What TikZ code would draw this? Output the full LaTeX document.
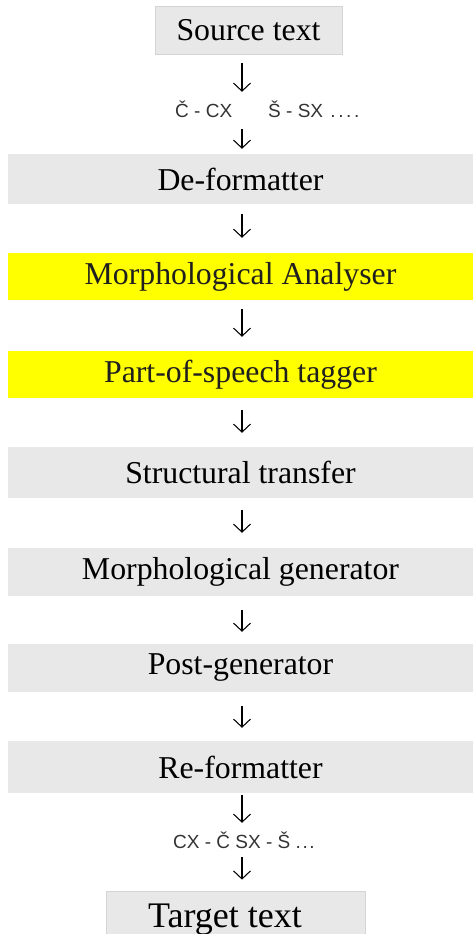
\documentclass[tikz,border=0pt]{standalone}
\usepackage{fontspec}
\setmainfont{Liberation Serif}
\newfontfamily\labelfont{Liberation Sans}
\usetikzlibrary{arrows.meta}
\definecolor{barGray}{HTML}{E8E8E8}
\definecolor{boxEdge}{HTML}{D4D4D4}
\definecolor{barYellow}{HTML}{FFFF00}
\newcommand{\spacedots}[2]{\foreach \k in {1,...,#1}{.\hspace{#2}}}
\begin{document}
\begin{tikzpicture}[x=1pt,y=1pt,
  stage/.style={minimum width=465pt, inner sep=0pt, text=black,
    font=\fontsize{31.8}{32}\selectfont},
  graystage/.style={stage, fill=barGray},
  yellowstage/.style={stage, fill=barYellow, text=black!88},
  endbox/.style={fill=barGray, draw=boxEdge, line width=0.8pt, inner sep=0pt},
  codes/.style={inner sep=0pt, text height=15pt, text depth=2pt,
    font=\labelfont\fontsize{19}{19}\selectfont, text=black!80},
  flow/.style={line width=1.05pt, -{Straight Barb[length=8pt,width=17pt,line width=1.05pt]}}
]
\clip (0,0) rectangle (473,-934);
\fill[white] (0,0) rectangle (473,-934);

% end points of the pipeline
\node[endbox, minimum width=187pt, minimum height=48pt] (src) at (248.5,-30) {};
\node[font=\fontsize{31.8}{32}\selectfont] at (src.center) {Source text};
\node[endbox, minimum width=259pt, minimum height=70pt] (tgt) at (235.5,-926) {};
\node[font=\fontsize{36}{36}\selectfont, anchor=base] at (225,-927) {Target text};

% character substitution notes
\node[codes, anchor=base west] (enc) at (175,-117) {Č - CX\hspace{36pt}Š - SX\hspace{2pt} \spacedots{4}{2.6pt}};
\node[codes, anchor=base west] (dec) at (173,-848) {CX - Č SX - Š \spacedots{3}{1.6pt}};

% processing stages
\node[graystage,   minimum height=50pt] (defmt) at (240.5,-179)   {De-formatter};
\node[yellowstage, minimum height=47pt] (morph) at (240.5,-276.5) {Morphological Analyser};
\node[yellowstage, minimum height=47pt] (pos)   at (240.5,-374.5) {Part-of-speech tagger};
\node[graystage,   minimum height=51pt] (trans) at (240.5,-472.5) {Structural transfer};
\node[graystage,   minimum height=48pt] (mgen)  at (240.5,-572)   {Morphological generator};
\node[graystage,   minimum height=48pt] (pgen)  at (240.5,-668)   {Post-generator};
\node[graystage,   minimum height=52pt] (refmt) at (240.5,-767)   {Re-formatter};

% arrows run down one common column
\coordinate (col) at (242,0);
\draw[flow, shorten <=9pt,  shorten >=10pt] (src.south -| col)   -- (enc.north -| col);
\draw[flow, shorten <=10pt, shorten >=5pt]  (enc.south -| col)   -- (defmt.north -| col);
\draw[flow, shorten <=10pt, shorten >=15pt] (defmt.south -| col) -- (morph.north -| col);
\draw[flow, shorten <=9pt,  shorten >=14pt] (morph.south -| col) -- (pos.north -| col);
\draw[flow, shorten <=12pt, shorten >=14pt] (pos.south -| col)   -- (trans.north -| col);
\draw[flow, shorten <=12pt, shorten >=15pt] (trans.south -| col) -- (mgen.north -| col);
\draw[flow, shorten <=14pt, shorten >=12pt] (mgen.south -| col)  -- (pgen.north -| col);
\draw[flow, shorten <=14pt, shorten >=13pt] (pgen.south -| col)  -- (refmt.north -| col);
\draw[flow, shorten <=2pt,  shorten >=10pt] (refmt.south -| col) -- (dec.north -| col);
\draw[flow, shorten <=7pt,  shorten >=11pt] (dec.south -| col)   -- (tgt.north -| col);
\end{tikzpicture}
\end{document}
